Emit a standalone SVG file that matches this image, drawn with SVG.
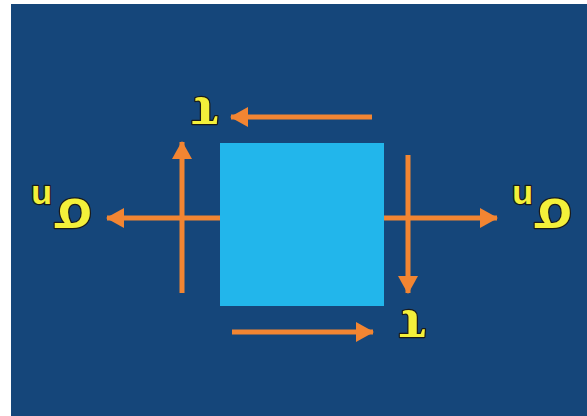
<svg xmlns="http://www.w3.org/2000/svg" width="587" height="416" viewBox="0 0 587 416">
<defs>
<marker id="ah" viewBox="0 0 18 20" refX="17" refY="10" markerWidth="18" markerHeight="20" markerUnits="userSpaceOnUse" orient="auto">
<path d="M0,0 L18,10 L0,20 Z" fill="#F28532"/>
</marker>
<style>
.ln{stroke:#F28532;stroke-width:5;fill:none}
.arr{marker-end:url(#ah)}
.lbl{font-weight:bold;fill:#F4F03A;stroke:#1a1a1a;stroke-width:2.5;paint-order:stroke;stroke-linejoin:round}
.sg{font-family:"Liberation Sans",Arial,sans-serif}
.tu{font-family:"Liberation Serif","Times New Roman",serif}
</style>
</defs>
<rect x="0" y="0" width="587" height="416" fill="#ffffff"/>
<rect x="11" y="4" width="576" height="412" fill="#15467A"/>
<g id="element">
<rect x="220" y="143" width="164" height="163" fill="#22B6EB"/>
</g>
<g id="connectors">
<line class="ln arr" x1="182" y1="293" x2="182" y2="142"/>
<line class="ln arr" x1="408" y1="155" x2="408" y2="293"/>
<line class="ln arr" x1="220" y1="218" x2="107" y2="218"/>
<line class="ln arr" x1="384" y1="218" x2="497" y2="218"/>
<line class="ln arr" x1="372" y1="117" x2="231" y2="117"/>
<line class="ln arr" x1="232" y1="332" x2="373" y2="332"/>
</g>
<g id="label-sigma-left">
<text class="lbl sg" transform="rotate(180 62.5 208.5)" font-size="56" x="33" y="218">σ<tspan x="73" y="231" font-size="34">n</tspan></text>
</g>
<g id="label-sigma-right">
<text class="lbl sg" transform="rotate(180 543.5 208.5)" font-size="56" x="515" y="218">σ<tspan x="554" y="231" font-size="34">n</tspan></text>
</g>
<g id="label-tau-top">
<text class="lbl tu" transform="rotate(180 205 112.5)" font-size="58" x="205" y="127" text-anchor="middle">τ</text>
</g>
<g id="label-tau-bottom">
<text class="lbl tu" transform="rotate(180 412.5 326)" font-size="58" x="412.5" y="341" text-anchor="middle">τ</text>
</g>
</svg>
